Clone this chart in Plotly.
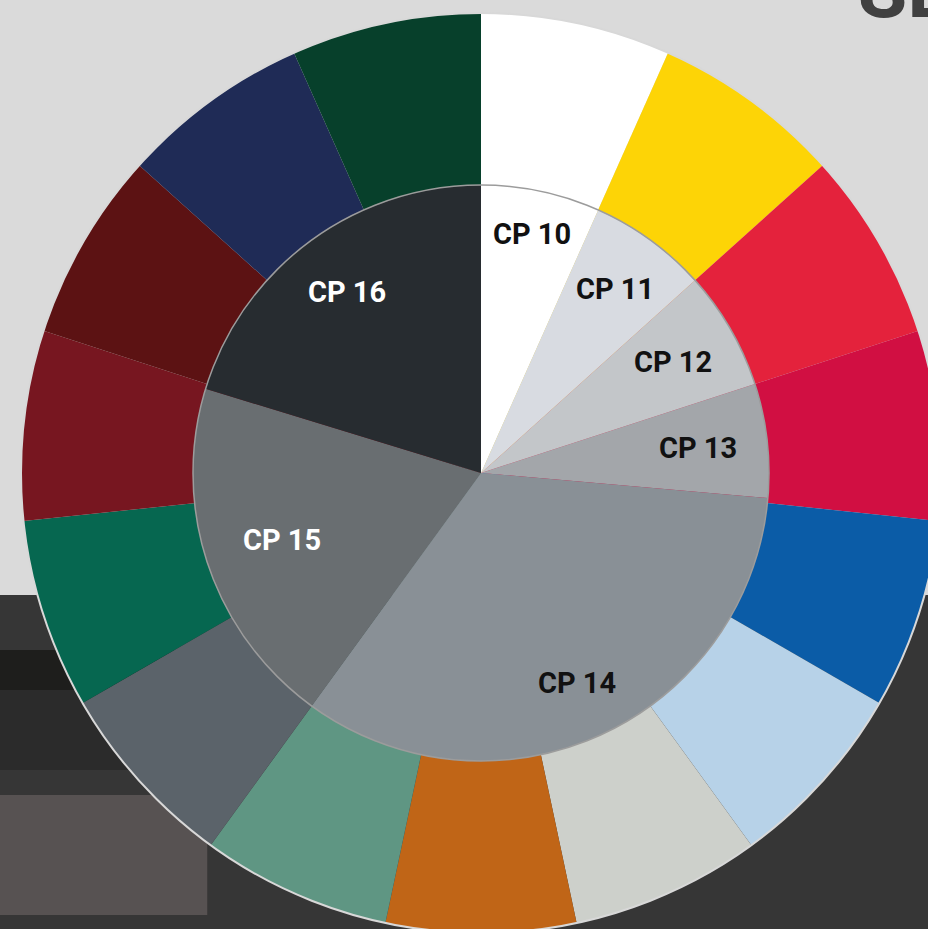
import math
import plotly.graph_objects as go

# ---- data ----
inner_labels = ["CP 10", "CP 11", "CP 12", "CP 13", "CP 14", "CP 15", "CP 16"]
inner_values = [24, 24, 24, 23, 121, 71, 73]
inner_colors = ["#ffffff", "#d8dbe1", "#c3c6c9", "#a3a6aa", "#899096", "#696e71", "#272c30"]
inner_text_colors = ["#111111", "#111111", "#111111", "#111111", "#111111", "#ffffff", "#ffffff"]

outer_values = [1] * 15
outer_colors = ["#ffffff", "#fdd406", "#e4223c", "#d10f42", "#0b5ca7", "#b7d2e8", "#cdd0cb",
                "#c06517", "#5f9683", "#5b636a", "#066750", "#771620", "#5c1213", "#1f2b56", "#07402b"]

# ---- layout geometry ----
W, H = 942, 934
CX, CY = 481, 473
R_OUT, R_IN = 460, 288
# label distance from centre as a fraction of the inner radius (layout styling)
LABEL_R = [0.85, 0.79, 0.77, 0.76, 0.80, 0.73, 0.78]

def dom(r):
    return dict(x=[(CX - r) / W, (CX + r) / W], y=[(H - CY - r) / H, (H - CY + r) / H])

fig = go.Figure()
fig.add_trace(go.Pie(values=outer_values, marker=dict(colors=outer_colors, line=dict(width=0)),
                     sort=False, direction="clockwise", rotation=0, textinfo="none",
                     hoverinfo="skip", domain=dom(R_OUT), showlegend=False))
fig.add_trace(go.Pie(values=inner_values, labels=inner_labels,
                     marker=dict(colors=inner_colors, line=dict(width=0)),
                     sort=False, direction="clockwise", rotation=0, textinfo="none",
                     domain=dom(R_IN), showlegend=False))

# labels placed along each slice's bisector (derived from the values)
total = sum(inner_values)
annotations = []
acc = 0
for lab, v, tc, lr in zip(inner_labels, inner_values, inner_text_colors, LABEL_R):
    ang = math.radians((acc + v / 2) / total * 360)
    acc += v
    px = CX + lr * R_IN * math.sin(ang)
    py = (H - CY) + lr * R_IN * math.cos(ang)
    annotations.append(dict(text="<b>%s</b>" % lab, x=px / W, y=py / H, xref="paper", yref="paper",
                            showarrow=False, xanchor="center", yanchor="middle",
                            font=dict(family="Roboto", size=29, color=tc)))

annotations.append(dict(text="<b>SE</b>", xref="paper", yref="paper", x=856 / W, y=(H + 10) / H,
                        xanchor="left", yanchor="middle", showarrow=False,
                        font=dict(family="Roboto", size=80, color="#404040")))

d = dom(R_IN)
o = dom(R_OUT)
fig.update_layout(
    width=W, height=H, margin=dict(l=0, r=0, t=0, b=0),
    paper_bgcolor="#dadada",
    shapes=[
        dict(type="rect", xref="paper", yref="paper", x0=0, x1=1, y0=0, y1=(H - 595) / H,
             fillcolor="#363636", line=dict(width=0), layer="below"),
        dict(type="rect", xref="paper", yref="paper", x0=0, x1=0.3, y0=(H - 690) / H, y1=(H - 650) / H,
             fillcolor="#1e1e1c", line=dict(width=0), layer="below"),
        dict(type="rect", xref="paper", yref="paper", x0=0, x1=0.3, y0=(H - 770) / H, y1=(H - 690) / H,
             fillcolor="#2b2b2b", line=dict(width=0), layer="below"),
        dict(type="rect", xref="paper", yref="paper", x0=0, x1=0.22, y0=(H - 915) / H, y1=(H - 795) / H,
             fillcolor="#575252", line=dict(width=0), layer="below"),
        dict(type="circle", xref="paper", yref="paper", x0=o["x"][0], x1=o["x"][1],
             y0=o["y"][0], y1=o["y"][1], line=dict(color="#d8d8d8", width=2)),
        dict(type="circle", xref="paper", yref="paper", x0=d["x"][0], x1=d["x"][1],
             y0=d["y"][0], y1=d["y"][1], line=dict(color="#9c9c9c", width=1.5)),
    ],
    annotations=annotations,
)

fig.write_html("out.html", config={"displayModeBar": False},
               post_script="document.body.style.margin='0';document.body.style.overflow='hidden';document.documentElement.style.overflow='hidden';")
